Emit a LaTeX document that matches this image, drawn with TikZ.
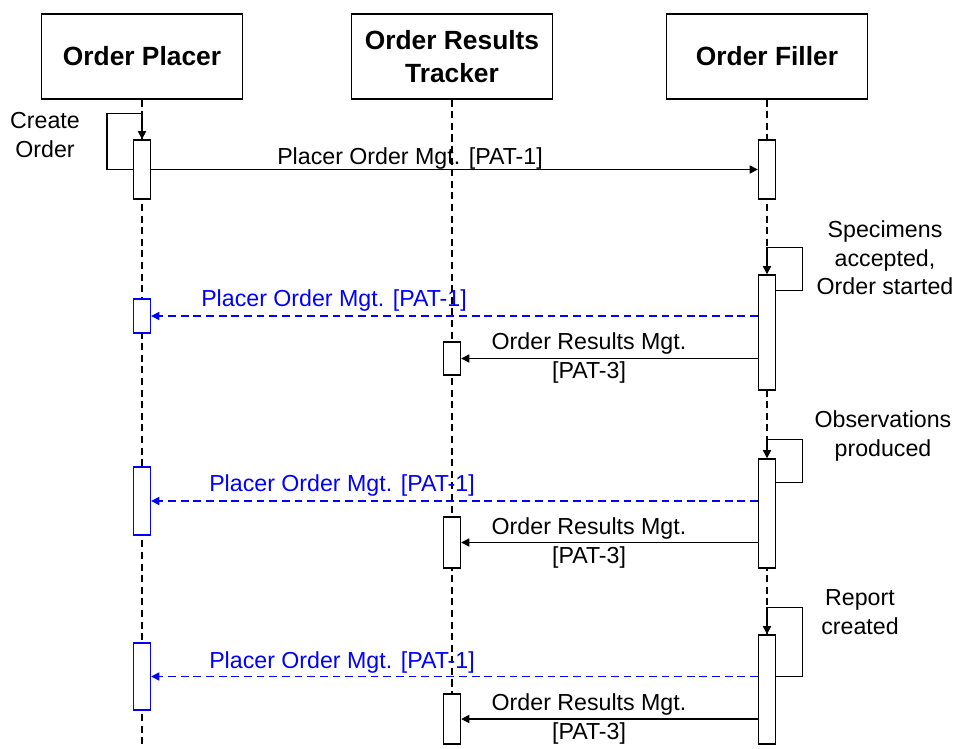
\documentclass[tikz,border=0pt]{standalone}
\usepackage{fontspec}
\setmainfont{Liberation Sans}
\usepackage{tikz}
\usetikzlibrary{arrows.meta,positioning,calc}
\definecolor{pblue}{HTML}{0000FF}
\tikzset{
 actor/.style={draw=black,line width=0.8pt,align=center,minimum width=4.02cm,minimum height=1.7cm,
   font=\fontsize{15}{18.7}\selectfont\bfseries,inner sep=2pt,fill=white},
 bar/.style={draw=black,line width=0.8pt,fill=white,minimum width=0.34cm,inner sep=0pt},
 bluebar/.style={bar,draw=pblue},
 lifeline/.style={draw=black,line width=0.6pt,dash pattern=on 4pt off 2.6pt},
 msg/.style={-{Triangle[length=4.6pt,width=4.6pt]},line width=0.8pt,draw=black},
 bluemsg/.style={msg,draw=pblue,dash pattern=on 4.4pt off 2.8pt},
 lbl/.style={align=center,font=\fontsize{13.2}{16.3}\selectfont,inner sep=0pt},
 bluelbl/.style={lbl,text=pblue}
}
\begin{document}
\begin{tikzpicture}[x=0.02cm,y=-0.02cm]
 \useasboundingbox (0,0) rectangle (956,749);
 % actors
 \node[actor] (op) at (142,56.5) {Order Placer};
 \node[actor] (ort) at (452,56.5) {Order Results\\Tracker};
 \node[actor] (of) at (767,56.5) {Order Filler};
 \foreach \a in {op,ort,of}
   \draw[lifeline] (\a.south) -- (\a.south |- 0,749);
 % activation bars
 \node[bar,minimum height=1.18cm] (op1) at (142,169.5) {};
 \node[bar,minimum height=1.18cm] (of1) at (767,169.5) {};
 \node[bar,minimum height=2.3cm] (of2) at (767,332.5) {};
 \node[bluebar,minimum height=0.68cm] (op2) at (142,316) {};
 \node[bar,minimum height=0.66cm] (ort1) at (452,358.5) {};
 \node[bar,minimum height=2.18cm] (of3) at (767,513.5) {};
 \node[bluebar,minimum height=1.36cm] (op3) at (142,501) {};
 \node[bar,minimum height=1.02cm] (ort2) at (452,542.5) {};
 \node[bar,minimum height=2.18cm] (of4) at (767,689.5) {};
 \node[bluebar,minimum height=1.34cm] (op4) at (142,676.5) {};
 \node[bar,minimum height=1.0cm] (ort3) at (452,719) {};
 % self calls
 \draw[msg] (op1.west) -- ++(-26,0) |- ($(op1.north)+(0,-26)$) -- (op1.north);
 \draw[msg] ($(of2.north east)+(0,16)$) -- ++(26,0) |- ($(of2.north)+(0,-27)$) -- (of2.north);
 \draw[msg] ($(of3.north east)+(0,24)$) -- ++(26,0) |- ($(of3.north)+(0,-19)$) -- (of3.north);
 \draw[msg] ($(of4.north east)+(0,42)$) -- ++(26,0) |- ($(of4.north)+(0,-27)$) -- (of4.north);
 \node[lbl] (create) at (45,135) {Create\\Order};
 \node[lbl] (specimens) at (885,258) {Specimens\\accepted,\\Order started};
 \node[lbl] (observe) at (883,436) {Observations\\produced};
 \node[lbl] (report) at (860,612) {Report\\created};
 % messages
 \draw[msg] (op1.east) -- (of1.west);
 \node[lbl] (pom0) at (410,159) {Placer Order Mgt. [PAT-1]};
 \draw[bluemsg] (of2.west |- op2.east) -- (op2.east);
 \node[bluelbl] (pom1) at (334,301) {Placer Order Mgt. [PAT-1]};
 \draw[msg] (of2.west |- ort1.east) -- (ort1.east);
 \node[lbl] (orm1) at (589,358) {Order Results Mgt.\\{}[PAT-3]};
 \draw[bluemsg] (of3.west |- op3.east) -- (op3.east);
 \node[bluelbl] (pom2) at (342,486) {Placer Order Mgt. [PAT-1]};
 \draw[msg] (of3.west |- ort2.east) -- (ort2.east);
 \node[lbl] (orm2) at (589,543) {Order Results Mgt.\\{}[PAT-3]};
 \draw[bluemsg] (of4.west |- op4.east) -- (op4.east);
 \node[bluelbl] (pom3) at (342,662) {Placer Order Mgt. [PAT-1]};
 \draw[msg] (of4.west |- ort3.east) -- (ort3.east);
 \node[lbl] (orm3) at (589,719) {Order Results Mgt.\\{}[PAT-3]};
\end{tikzpicture}
\end{document}
